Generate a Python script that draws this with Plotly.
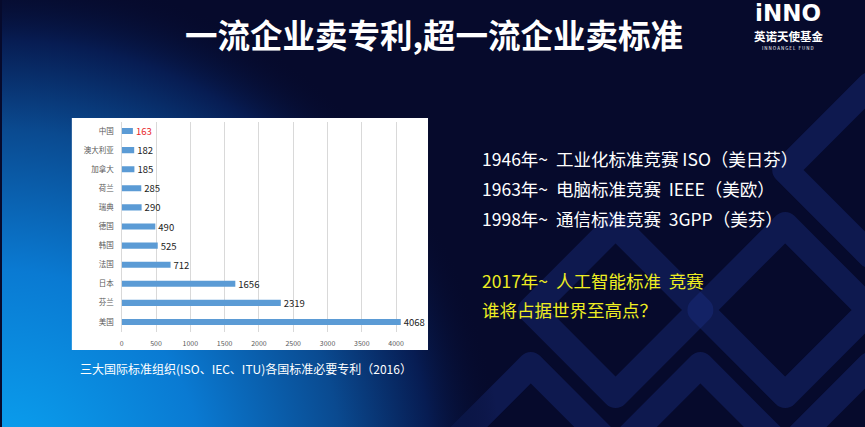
import base64
import plotly.graph_objects as go

W, H = 865, 427

# data
countries = ['中国', '澳大利亚', '加拿大', '荷兰', '瑞典', '德国', '韩国', '法国', '日本', '芬兰', '美国']
patents = [163, 182, 185, 285, 290, 490, 525, 712, 1656, 2319, 4068]
label_colors = ['#e8262a'] + ['#222222'] * 10
x_ticks = [0, 500, 1000, 1500, 2000, 2500, 3000, 3500, 4000]

title = '一流企业卖专利,超一流企业卖标准'
caption = '三大国际标准组织(ISO、IEC、ITU)各国标准必要专利（2016）'
white_lines = ['1946年~  工业化标准竞赛 ISO（美日芬）',
               '1963年~  电脑标准竞赛  IEEE（美欧）',
               '1998年~  通信标准竞赛  3GPP（美芬）']
yellow_lines = ['2017年~  人工智能标准  竞赛',
                '谁将占据世界至高点？']

FONT = 'Noto Sans CJK SC'


def px(x):
    return x / W


def py(y):
    return 1 - y / H


# background: navy with blue glow bottom-left and faint diamonds
diamonds = ''
for cx, cy in [(530, 450), (700, 450), (870, 450), (615, 310), (785, 310), (870, 170)]:
    r = 85
    diamonds += (f'<path d="M{cx} {cy-r} L{cx+r} {cy} L{cx} {cy+r} L{cx-r} {cy} Z" '
                 'fill="none" stroke="#1e3288" stroke-opacity="0.38" stroke-width="26" '
                 'stroke-linejoin="round"/>')
svg = f'''<svg xmlns="http://www.w3.org/2000/svg" width="{W}" height="{H}" viewBox="0 0 {W} {H}">
<defs>
<radialGradient id="g" cx="0" cy="470" r="500" gradientUnits="userSpaceOnUse">
<stop offset="0" stop-color="#0aa4f2"/>
<stop offset="0.4" stop-color="#0a7ad2"/>
<stop offset="0.68" stop-color="#0a4a90"/>
<stop offset="0.86" stop-color="#071c52"/>
<stop offset="1" stop-color="#060a2c" stop-opacity="0"/>
</radialGradient>
</defs>
<rect width="{W}" height="{H}" fill="#060a2c"/>
{diamonds}
<rect width="{W}" height="{H}" fill="url(#g)"/>
</svg>'''
bg_src = 'data:image/svg+xml;base64,' + base64.b64encode(svg.encode('utf-8')).decode()

fig = go.Figure()
fig.add_trace(go.Bar(
    x=patents,
    y=countries,
    orientation='h',
    marker=dict(color='#5b9bd5', line=dict(width=0)),
    text=[str(v) for v in patents],
    textposition='outside',
    textfont=dict(family=FONT, size=9.5, color=label_colors),
    constraintext='none',
    cliponaxis=False,
    hoverinfo='x+y',
))

fig.update_xaxes(
    range=[0, 4465],
    domain=[px(120), px(427)],
    tickvals=x_ticks,
    showgrid=True, gridcolor='#d9d9d9', gridwidth=1,
    zeroline=True, zerolinecolor='#d9d9d9', zerolinewidth=1,
    showline=False, ticks='',
    tickfont=dict(family=FONT, size=7, color='#595959'),
    ticklabelstandoff=6,
)
fig.update_yaxes(
    autorange='reversed',
    domain=[py(331.5), py(121.5)],
    showgrid=False, showline=False, ticks='',
    tickfont=dict(family=FONT, size=7.5, color='#595959'),
    ticklabelstandoff=7,
)

annotations = [
    dict(text=f'<b>{title}</b>', x=px(433), y=py(34), xanchor='center', yanchor='middle',
         font=dict(family=FONT, size=32.5, color='white')),
    dict(text=caption, x=px(77), y=py(368), xanchor='left', yanchor='middle',
         font=dict(family=FONT, size=12, color='white')),
    # logo
    dict(text='<b>iNNO</b>', x=px(788), y=py(13), xanchor='center', yanchor='middle',
         font=dict(family='DejaVu Sans', size=23, color='white')),
    dict(text='<b>英诺天使基金</b>', x=px(788), y=py(36), xanchor='center', yanchor='middle',
         font=dict(family=FONT, size=11.5, color='white')),
    dict(text='I N N O A N G E L   F U N D', x=px(788), y=py(48), xanchor='center', yanchor='middle',
         font=dict(family=FONT, size=4.5, color='white')),
]
for i, line in enumerate(white_lines):
    annotations.append(dict(text=line, x=px(480), y=py(158 + 30 * i), xanchor='left', yanchor='middle',
                            font=dict(family=FONT, size=17.5, color='white')))
for i, line in enumerate(yellow_lines):
    annotations.append(dict(text=line, x=px(480), y=py(280 + 29 * i), xanchor='left', yanchor='middle',
                            font=dict(family=FONT, size=17.5, color='#eeee22')))
for a in annotations:
    a.update(xref='paper', yref='paper', showarrow=False, borderpad=0)

fig.update_layout(
    width=W, height=H,
    margin=dict(l=0, r=0, t=0, b=0),
    paper_bgcolor='#060a2c',
    plot_bgcolor='rgba(0,0,0,0)',
    showlegend=False,
    bargap=0.68,
    images=[dict(source=bg_src, xref='paper', yref='paper', x=0, y=1, sizex=1, sizey=1,
                 sizing='stretch', xanchor='left', yanchor='top', layer='below')],
    shapes=[dict(type='rect', xref='paper', yref='paper',
                 x0=px(70), x1=px(427), y0=py(350), y1=py(118),
                 fillcolor='white', line=dict(width=0), layer='below')],
    annotations=annotations,
)

fig.write_html('out.html', config={'displayModeBar': False},
               post_script="document.body.style.margin='0';document.body.style.overflow='hidden';")
